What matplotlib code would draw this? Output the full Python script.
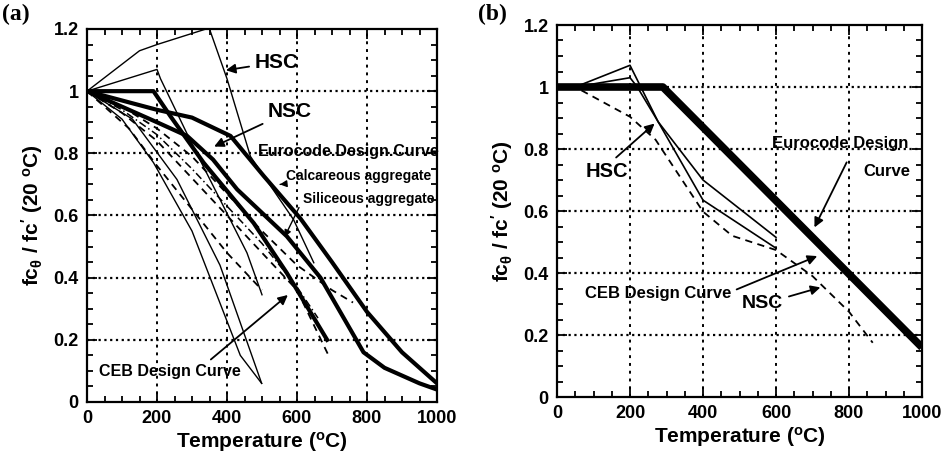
import matplotlib
matplotlib.use("Agg")
import matplotlib.pyplot as plt
from matplotlib.ticker import MultipleLocator

FAM = ['Liberation Sans Narrow', 'Liberation Sans', 'DejaVu Sans']
plt.rcParams['font.family'] = FAM
plt.rcParams['font.weight'] = 'bold'

# ---------------- Panel (a) data ----------------
a_hsc_top_T = [0, 150, 200, 340, 350, 400, 467, 590, 648]
a_hsc_top_v = [1, 1.13, 1.15, 1.2, 1.2, 1.04, 0.79, 0.587, 0.448]
a_peak_T = [0, 200, 210, 300, 457, 500]
a_peak_v = [1, 1.07, 1.04, 0.83, 0.48, 0.345]
a_steep1_T = [0, 100, 190, 300, 438, 499]
a_steep1_v = [1, 0.91, 0.77, 0.55, 0.15, 0.06]
a_steep2_T = [0, 130, 257, 380, 499]
a_steep2_v = [1, 0.91, 0.716, 0.44, 0.06]

a_dashA_T = [0, 50, 120, 200, 300, 400, 500]
a_dashA_v = [1, 0.95, 0.88, 0.76, 0.62, 0.48, 0.36]
a_dashB_T = [0, 100, 200, 300, 400, 500, 600, 690]
a_dashB_v = [1, 0.93, 0.84, 0.72, 0.60, 0.48, 0.36, 0.15]
a_dashC_T = [0, 100, 200, 300, 400, 500, 600, 700, 760]
a_dashC_v = [1, 0.95, 0.88, 0.79, 0.67, 0.55, 0.44, 0.36, 0.32]
a_dashD_T = [0, 100, 200, 300, 400, 500, 600, 660]
a_dashD_v = [1, 0.94, 0.86, 0.75, 0.63, 0.51, 0.37, 0.27]

a_euro_calc_T = [0, 100, 200, 300, 410, 505, 610, 700, 800, 900, 1000]
a_euro_calc_v = [1, 0.97, 0.94, 0.915, 0.856, 0.727, 0.59, 0.45, 0.29, 0.16, 0.06]
a_euro_sil_T = [0, 100, 200, 286, 360, 429, 571, 667, 790, 850, 950, 1000]
a_euro_sil_v = [1, 0.95, 0.90, 0.856, 0.78, 0.684, 0.533, 0.40, 0.16, 0.11, 0.06, 0.04]
a_ceb_T = [0, 190, 238, 333, 476, 571, 686]
a_ceb_v = [1, 1.0, 0.92, 0.77, 0.576, 0.415, 0.20]

# ---------------- Panel (b) data ----------------
b_euro_T = [0, 290, 1000]
b_euro_v = [1, 1.0, 0.16]
b_hsc1_T = [0, 50, 200, 277, 400, 600]
b_hsc1_v = [1, 1.0, 1.07, 0.888, 0.70, 0.515]
b_hsc2_T = [0, 50, 200, 220, 277, 400, 600]
b_hsc2_v = [1, 1.0, 1.03, 1.0, 0.888, 0.635, 0.48]
b_nsc_T = [0, 50, 200, 270, 400, 480, 600, 700, 800, 865]
b_nsc_v = [1, 1.0, 0.904, 0.83, 0.598, 0.52, 0.474, 0.39, 0.275, 0.175]

xticks = [0, 200, 400, 600, 800, 1000]
yticks = [0, 0.2, 0.4, 0.6, 0.8, 1.0, 1.2]
ytick_labels = ['0', '0.2', '0.4', '0.6', '0.8', '1', '1.2']

fig = plt.figure(figsize=(9.49, 4.68), dpi=100)
axA = fig.add_axes([87/949, 1-402/468, 350/949, 373/468])
axB = fig.add_axes([557/949, 1-397/468, 365/949, 372/468])


def style(ax):
    ax.set_xlim(0, 1000)
    ax.set_ylim(0, 1.2)
    ax.set_xticks(xticks)
    ax.set_yticks(yticks)
    ax.set_yticklabels(ytick_labels)
    ax.xaxis.set_minor_locator(MultipleLocator(50))
    ax.yaxis.set_minor_locator(MultipleLocator(0.05))
    ax.tick_params(which='both', direction='in', top=True, right=True, width=1.3)
    ax.tick_params(which='major', length=7, labelsize=13, pad=6)
    ax.tick_params(which='minor', length=4)
    for t in xticks[1:-1]:
        ax.axvline(t, color='black', linestyle=(0, (1.5, 2.5)), linewidth=1.4, zorder=0.5)
    for t in yticks[1:-1]:
        ax.axhline(t, color='black', linestyle=(0, (1, 1.6)), linewidth=1.6, zorder=0.5)
    for s in ax.spines.values():
        s.set_linewidth(1.6)
    for lab in ax.get_xticklabels() + ax.get_yticklabels():
        lab.set_fontweight('bold')
    ax.set_xlabel('Temperature ($\\mathregular{^{o}}$C)', fontsize=15, fontweight='bold', labelpad=2)
    ax.set_ylabel("fc$\\mathregular{_{\\theta}}$ / fc$\\mathregular{'}$ (20 $\\mathregular{^{o}}$C)",
                  fontsize=15, fontweight='bold', labelpad=6)


style(axA)
style(axB)

# ---- panel (a) curves ----
k = 'black'
for T, v in [(a_hsc_top_T, a_hsc_top_v), (a_peak_T, a_peak_v),
             (a_steep1_T, a_steep1_v), (a_steep2_T, a_steep2_v)]:
    axA.plot(T, v, color=k, lw=1.0)
for T, v in [(a_dashA_T, a_dashA_v), (a_dashB_T, a_dashB_v), (a_dashC_T, a_dashC_v)]:
    axA.plot(T, v, color=k, lw=1.3, linestyle=(0, (4, 3)))
axA.plot(a_dashD_T, a_dashD_v, color=k, lw=1.1, linestyle=(0, (5, 2, 1, 2)))
for T, v in [(a_euro_calc_T, a_euro_calc_v), (a_euro_sil_T, a_euro_sil_v), (a_ceb_T, a_ceb_v)]:
    axA.plot(T, v, color=k, lw=3.0, solid_joinstyle='round')

arrow = dict(arrowstyle='-|>', color='black', lw=1.3, mutation_scale=14)
axA.annotate('HSC', xy=(389, 1.066), xytext=(542, 1.093), fontsize=15, fontweight='bold',
             ha='center', va='center', arrowprops=arrow)
axA.annotate('NSC', xy=(356, 0.818), xytext=(580, 0.936), fontsize=15, fontweight='bold',
             ha='center', va='center', arrowprops=arrow)
axA.text(747, 0.807, 'Eurocode.Design.Curve', fontsize=11.5, fontweight='bold', ha='center', va='center')
axA.annotate('Calcareous aggregate', xy=(551, 0.70), xytext=(775, 0.727), fontsize=10,
             fontweight='bold', ha='center', va='center',
             arrowprops=dict(arrowstyle='-|>', color='black', lw=1.0, mutation_scale=10))
axA.annotate('Siliceous aggregate', xy=(561, 0.523), xytext=(805, 0.652), fontsize=10,
             fontweight='bold', ha='center', va='center',
             arrowprops=dict(arrowstyle='-|>', color='black', lw=1.0, mutation_scale=10,
                             relpos=(0, 0.5)))
axA.annotate('CEB Design Curve', xy=(580, 0.35), xytext=(237, 0.098), fontsize=11.5, fontweight='bold',
             ha='center', va='center', arrowprops=dict(arrow, relpos=(0.75, 1.0)))

# ---- panel (b) curves ----
axB.plot(b_euro_T, b_euro_v, color=k, lw=5.5, solid_capstyle='butt')
axB.plot(b_hsc1_T, b_hsc1_v, color=k, lw=1.2)
axB.plot(b_hsc2_T, b_hsc2_v, color=k, lw=1.2)
axB.plot(b_nsc_T, b_nsc_v, color=k, lw=1.3, linestyle=(0, (4, 3)))

axB.annotate('HSC', xy=(273, 0.888), xytext=(136, 0.727), fontsize=14.5, fontweight='bold',
             ha='center', va='center', arrowprops=dict(arrow, relpos=(0.6, 1.0)))
axB.text(775, 0.818, 'Eurocode Design', fontsize=12, fontweight='bold', ha='center', va='center')
axB.text(903, 0.727, 'Curve', fontsize=12, fontweight='bold', ha='center', va='center')
axB.annotate('', xy=(702, 0.539), xytext=(797, 0.765), arrowprops=arrow)
axB.annotate('CEB Design Curve', xy=(720, 0.458), xytext=(277, 0.335), fontsize=12,
             fontweight='bold', ha='center', va='center', arrowprops=dict(arrow, relpos=(1.0, 0.6)))
axB.annotate('NSC', xy=(729, 0.356), xytext=(564, 0.30), fontsize=14, fontweight='bold',
             ha='center', va='center', arrowprops=arrow)

fig.text(2/949, 1-14/468, '(a)', family=['Liberation Serif', 'DejaVu Serif'], fontsize=17,
         fontweight='bold', ha='left', va='center')
fig.text(478/949, 1-14/468, '(b)', family=['Liberation Serif', 'DejaVu Serif'], fontsize=17,
         fontweight='bold', ha='left', va='center')

fig.savefig('out.png', dpi=100)
